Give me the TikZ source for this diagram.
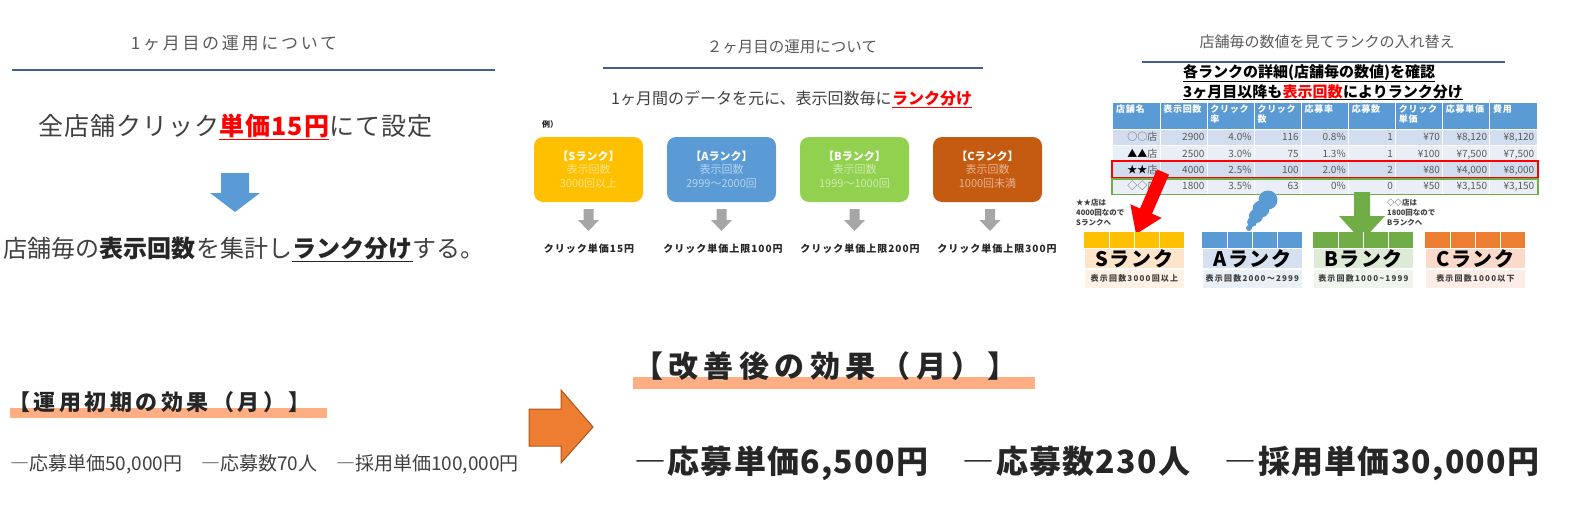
\documentclass[tikz,border=0pt]{standalone}
\usepackage{fontspec}
\setmainfont{Noto Sans CJK JP}
\usepackage{array}
\usetikzlibrary{calc}
\usetikzlibrary{positioning}

\definecolor{titlegray}{HTML}{595959}
\definecolor{textgray}{HTML}{404040}
\definecolor{nearblack}{HTML}{262626}
\definecolor{rulecol}{HTML}{41608F}
\definecolor{arrblue}{HTML}{5B9BD5}
\definecolor{arrgray}{HTML}{A6A6A6}
\definecolor{rankS}{HTML}{FFC000}
\definecolor{rankA}{HTML}{5B9BD5}
\definecolor{rankB}{HTML}{92D050}
\definecolor{rankC}{HTML}{C55A11}
\definecolor{hdrblue}{HTML}{5B9BD5}
\definecolor{rowdark}{HTML}{D2DEEF}
\definecolor{rowlight}{HTML}{EAEFF7}
\definecolor{cardS}{HTML}{FFC000}
\definecolor{cardA}{HTML}{5B9BD5}
\definecolor{cardB}{HTML}{70AD47}
\definecolor{cardC}{HTML}{ED7D31}
\definecolor{midS}{HTML}{FEE4C8}
\definecolor{midA}{HTML}{D5E0F1}
\definecolor{midB}{HTML}{DDEBD6}
\definecolor{midC}{HTML}{FBDACA}
\definecolor{subS}{HTML}{FFF2E5}
\definecolor{subA}{HTML}{EAF0F8}
\definecolor{subB}{HTML}{EEF5EB}
\definecolor{subC}{HTML}{FDEDE6}
\definecolor{hlbar}{HTML}{FFAD82}
\definecolor{arrorange}{HTML}{ED7D31}
\definecolor{arrorangedk}{HTML}{A9561C}

\setlength{\tabcolsep}{0pt}
\newcolumntype{N}{>{\raggedleft\arraybackslash}p{44.11pt}@{\hspace{3pt}}}
\newcolumntype{H}{@{\hspace{3pt}}>{\raggedright\arraybackslash}p{44.11pt}}

\begin{document}
\begin{tikzpicture}[x=1pt,y=-1pt,every node/.style={inner sep=0pt},
    ttl/.style={text=titlegray},
    rule/.style={draw=rulecol,line width=2pt},
    uline/.style={line width=1.5pt},
    big/.style={text=textgray,font=\fontsize{25}{30}\selectfont\addfontfeature{LetterSpace=4}},
    bigb/.style={font=\fontsize{25}{30}\selectfont\bfseries\addfontfeature{LetterSpace=4}},
    mid/.style={text=textgray,font=\fontsize{24}{28}\selectfont},
    midb/.style={text=nearblack,font=\fontsize{24}{28}\selectfont\bfseries},
    rankbox/.style={minimum width=109pt,minimum height=65pt,rounded corners=9pt,align=center,text=white,font=\fontsize{11}{13.5}\selectfont},
    lbl/.style={text=nearblack,font=\fontsize{10}{12}\selectfont\bfseries\addfontfeature{LetterSpace=10}},
    hdthree/.style={text=black,font=\fontsize{15}{18}\selectfont\bfseries},
    tblhd/.style={text=white,font=\fontsize{9}{10}\selectfont\bfseries\addfontfeature{LetterSpace=8}},
    tblrow/.style={text=titlegray,font=\fontsize{10}{12}\selectfont},
    note/.style={align=left,text=textgray,font=\fontsize{7.5}{10}\selectfont\bfseries},
    cardmid/.style={minimum width=100pt,minimum height=20pt,draw=white,line width=0.8pt,text=black,font=\fontsize{20}{22}\selectfont\bfseries\addfontfeature{LetterSpace=8}},
    cardsub/.style={minimum width=100pt,minimum height=19pt,draw=white,line width=0.8pt,text=textgray,font=\fontsize{8}{10}\selectfont\bfseries\addfontfeature{LetterSpace=15}},
    downarr/.pic={\fill[arrgray] (-5,0) -- (5,0) -- (5,11) -- (10.5,11) -- (0,22) -- (-10.5,11) -- (-5,11) -- cycle;},
    strip/.pic={\fill[pic actions] (0,0) rectangle (100,16);
        \draw[white,line width=1pt] (25,0) -- (25,16) (50,0) -- (50,16) (75,0) -- (75,16);}]
\useasboundingbox (0,0) rectangle (1575,520);

% first month
\node[ttl,font=\fontsize{17}{20}\selectfont\addfontfeature{LetterSpace=16}] (t1) at (234,43) {1ヶ月目の運用について};
\draw[rule] (12,70) -- (495,70);
\node[big,anchor=west] (p1a) at (38,126) {全店舗クリック};
\node[bigb,text=red,anchor=base west] (p1b) at (p1a.base east) {単価15円};
\node[big,anchor=base west] (p1c) at (p1b.base east) {にて設定};
\draw[red,uline] ([yshift=-1.5pt]p1b.south west) -- ([yshift=-1.5pt]p1b.south east);
\fill[arrblue] (221,173) -- (249,173) -- (249,193) -- (260,193) -- (235,212) -- (210,193) -- (221,193) -- cycle;
\node[mid,anchor=west] (p2a) at (3,248) {店舗毎の};
\node[midb,anchor=base west] (p2b) at (p2a.base east) {表示回数};
\node[mid,anchor=base west] (p2c) at (p2b.base east) {を集計し};
\node[midb,anchor=base west] (p2d) at (p2c.base east) {ランク分け};
\node[mid,anchor=base west] (p2e) at (p2d.base east) {する。};
\draw[nearblack,uline] ([yshift=-1.5pt]p2d.south west) -- ([yshift=-1.5pt]p2d.south east);

% second month
\node[ttl,font=\fontsize{15.5}{18}\selectfont] (t2) at (792,47) {２ヶ月目の運用について};
\draw[rule] (603,68) -- (983,68);
\node[text=textgray,font=\fontsize{16}{19}\selectfont,anchor=west] (s2a) at (611,98) {1ヶ月間のデータを元に、表示回数毎に};
\node[text=red,font=\fontsize{16}{19}\selectfont\bfseries,anchor=base west] (s2b) at (s2a.base east) {ランク分け};
\draw[red,line width=1pt] ([yshift=-1pt]s2b.south west) -- ([yshift=-1pt]s2b.south east);
\node[text=nearblack,font=\fontsize{8}{10}\selectfont\bfseries,anchor=west] (ex) at (542,124) {例）};
\node[rankbox,fill=rankS] (bS) at (588.5,169.5) {\textbf{【Sランク】}\\\textcolor{white!55!rankS}{表示回数}\\\textcolor{white!55!rankS}{3000回以上}};
\node[rankbox,fill=rankA] (bA) at (721.5,169.5) {\textbf{【Aランク】}\\\textcolor{white!55!rankA}{表示回数}\\\textcolor{white!55!rankA}{2999～2000回}};
\node[rankbox,fill=rankB] (bB) at (854.5,169.5) {\textbf{【Bランク】}\\\textcolor{white!55!rankB}{表示回数}\\\textcolor{white!55!rankB}{1999～1000回}};
\node[rankbox,fill=rankC] (bC) at (987.5,169.5) {\textbf{【Cランク】}\\\textcolor{white!55!rankC}{表示回数}\\\textcolor{white!55!rankC}{1000回未満}};
\pic at (588.5,209) {downarr};
\pic at (721.5,209) {downarr};
\pic at (854.5,209) {downarr};
\pic at (990,209) {downarr};
\node[lbl] (lS) at (589,249) {クリック単価15円};
\node[lbl] (lA) at (723,249) {クリック単価上限100円};
\node[lbl] (lB) at (860,249) {クリック単価上限200円};
\node[lbl] (lC) at (997,249) {クリック単価上限300円};

% rank change
\node[ttl,font=\fontsize{15}{18}\selectfont] (t3) at (1327,42) {店舗毎の数値を見てランクの入れ替え};
\draw[rule] (1142,62) -- (1505,62);
\node[hdthree,anchor=west] (h1) at (1183,73) {各ランクの詳細(店舗毎の数値)を確認};
\draw[line width=0.8pt] (h1.south west) -- (h1.south east);
\node[hdthree,anchor=west] (h2a) at (1183,92) {3ヶ月目以降も};
\node[hdthree,text=red,anchor=base west] (h2b) at (h2a.base east) {表示回数};
\node[hdthree,anchor=base west] (h2c) at (h2b.base east) {によりランク分け};
\draw[line width=0.8pt] (h2a.south west) -- (h2c.south east |- h2a.south);
\fill[hdrblue] (1113,103) rectangle (1537,129);
\fill[rowdark] (1113,129) rectangle (1537,145.25);
\fill[rowlight] (1113,145.25) rectangle (1537,161.5);
\fill[rowdark] (1113,161.5) rectangle (1537,177.75);
\fill[rowlight] (1113,177.75) rectangle (1537,194);
\draw[white,line width=1pt] (1160.1,103) -- (1160.1,194) (1207.2,103) -- (1207.2,194) (1254.3,103) -- (1254.3,194)
    (1301.4,103) -- (1301.4,194) (1348.6,103) -- (1348.6,194) (1395.7,103) -- (1395.7,194)
    (1442.8,103) -- (1442.8,194) (1489.9,103) -- (1489.9,194);
\draw[white,line width=0.6pt] (1113,129) -- (1537,129) (1113,145.25) -- (1537,145.25) (1113,161.5) -- (1537,161.5) (1113,177.75) -- (1537,177.75);
\node[tblhd,anchor=base west] (th) at (1113,112.5) {\begin{tabular}[t]{*{9}{H}}
    店舗名 & 表示回数 & クリック\newline 率 & クリック\newline 数 & 応募率 & 応募数 & クリック\newline 単価 & 応募単価 & 費用\end{tabular}};
\node[tblrow,anchor=base west] (r1) at (1113,140.7) {\begin{tabular}[t]{*{9}{N}}
    ○○店 & 2900 & 4.0\% & 116 & 0.8\% & 1 & ¥70 & ¥8,120 & ¥8,120\end{tabular}};
\node[tblrow,anchor=base west] (r2) at (1113,157) {\begin{tabular}[t]{*{9}{N}}
    \textcolor{black}{▲▲}店 & 2500 & 3.0\% & 75 & 1.3\% & 1 & ¥100 & ¥7,500 & ¥7,500\end{tabular}};
\node[tblrow,anchor=base west] (r3) at (1113,173.2) {\begin{tabular}[t]{*{9}{N}}
    \textcolor{black}{★★}店 & 4000 & 2.5\% & 100 & 2.0\% & 2 & ¥80 & ¥4,000 & ¥8,000\end{tabular}};
\node[tblrow,anchor=base west] (r4) at (1113,189.5) {\begin{tabular}[t]{*{9}{N}}
    ◇◇店 & 1800 & 3.5\% & 63 & 0\% & 0 & ¥50 & ¥3,150 & ¥3,150\end{tabular}};
\draw[cardB,line width=1.6pt] (1112,179) rectangle (1538,194.5);
\draw[red,line width=1.6pt] (1112,161) rectangle (1538,177.5);
\fill[red] (1157.0,169.4) -- (1140.0,208.5) -- (1130.4,204.3) -- (1136,234) -- (1161.6,217.9) -- (1152.0,213.7) -- (1169.0,174.6) -- cycle;
\fill[cardA] (1268,200) circle (9.5pt) (1261,209) circle (8.5pt) (1256,216) circle (7pt) (1252,222) circle (5pt) (1249,228) circle (3pt);
\fill[cardB] (1354,192) -- (1370,192) -- (1370,216) -- (1385,216) -- (1362,241) -- (1339,216) -- (1354,216) -- cycle;
\node[note,anchor=west] (nS) at (1076,213) {★★店は\\4000回なので\\Sランクへ};
\node[note,anchor=west] (nB) at (1387,213) {◇◇店は\\1800回なので\\Bランクへ};
\pic[fill=cardS] at (1084,232) {strip};
\node[cardmid,fill=midS,anchor=north west] (cS) at (1084,248) {Sランク};
\node[cardsub,fill=subS,below=0pt of cS] (dS) {表示回数3000回以上};
\pic[fill=cardA] at (1202,232) {strip};
\node[cardmid,fill=midA,anchor=north west] (cA) at (1202,248) {Aランク};
\node[cardsub,fill=subA,below=0pt of cA] (dA) {表示回数2000～2999};
\pic[fill=cardB] at (1313,232) {strip};
\node[cardmid,fill=midB,anchor=north west] (cB) at (1313,248) {Bランク};
\node[cardsub,fill=subB,below=0pt of cB] (dB) {表示回数1000\textasciitilde 1999};
\pic[fill=cardC] at (1425,232) {strip};
\node[cardmid,fill=midC,anchor=north west] (cC) at (1425,248) {Cランク};
\node[cardsub,fill=subC,below=0pt of cC] (dC) {表示回数1000以下};

% results
\fill[hlbar] (10,408) rectangle (327,418);
\node[anchor=west,text=nearblack,font=\fontsize{22}{26}\selectfont\bfseries\addfontfeature{LetterSpace=16}] (e1) at (8,402) {【運用初期の効果（月）】};
\node[anchor=west,text=textgray,font=\fontsize{19}{22}\selectfont] (v1) at (10,464) {―応募単価50,000円　―応募数70人　―採用単価100,000円};
\filldraw[fill=arrorange,draw=arrorangedk,line width=1pt] (529,409) -- (561,409) -- (561,390) -- (593,427) -- (561,463) -- (561,446) -- (529,446) -- cycle;
\fill[hlbar] (633,377) rectangle (1035,389);
\node[anchor=west,text=nearblack,font=\fontsize{30}{36}\selectfont\bfseries\addfontfeature{LetterSpace=18}] (e2) at (633,366) {【改善後の効果（月）】};
\node[anchor=west,text=nearblack,font=\fontsize{32}{38}\selectfont\bfseries\addfontfeature{LetterSpace=4}] (v2) at (634,463) {―応募単価6,500円　―応募数230人　―採用単価30,000円};
\end{tikzpicture}
\end{document}
